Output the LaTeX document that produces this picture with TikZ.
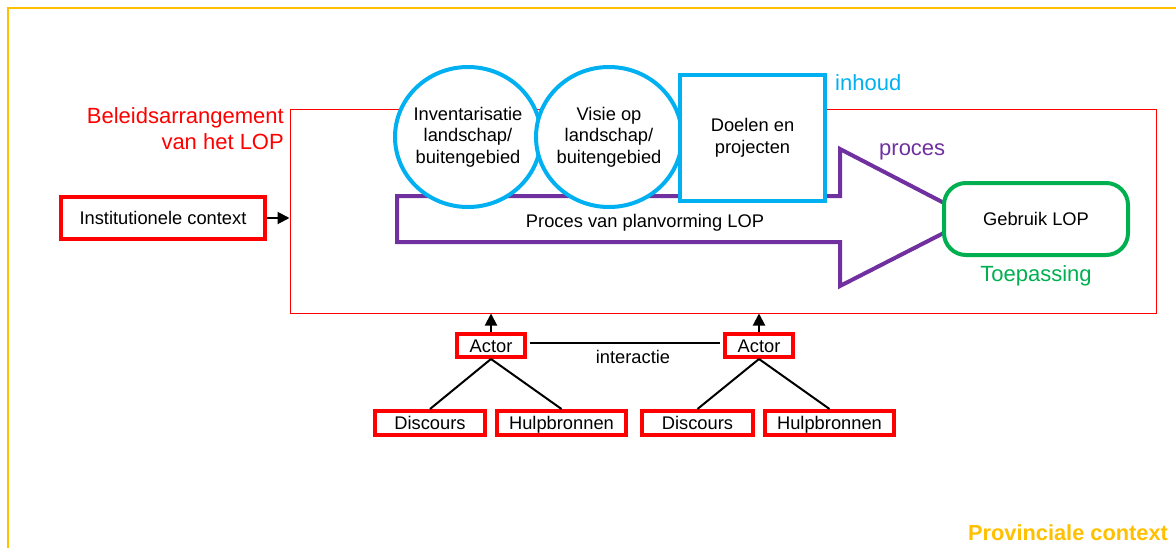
\documentclass[tikz,border=0pt]{standalone}
\usepackage{fontspec}
\setmainfont{Liberation Sans}
\usetikzlibrary{arrows.meta,shapes.geometric}
\definecolor{cred}{HTML}{FF0000}
\definecolor{cblue}{HTML}{00B0F0}
\definecolor{cpurple}{HTML}{7030A0}
\definecolor{cgreen}{HTML}{00B050}
\definecolor{cyellow}{HTML}{FFC000}
\newcommand{\fsnorm}{\fontsize{18.3}{21.6}\selectfont}
\newcommand{\fslarge}{\fontsize{22}{26}\selectfont}
\newcommand{\fsprov}{\fontsize{21.8}{25}\selectfont}
\tikzset{
  redbox/.style={draw=cred, line width=4pt, fill=white, inner sep=0pt,
    font=\fsnorm, text height=13.1pt, text depth=0pt},
  bluecirc/.style={draw=cblue, line width=4pt, fill=white, ellipse,
    inner sep=0pt, minimum width=146pt, minimum height=140pt},
  bluebox/.style={draw=cblue, line width=4pt, fill=white, inner sep=0pt,
    minimum width=145pt, minimum height=126pt, font=\fsnorm, align=center},
  greenbox/.style={draw=cgreen, line width=4pt, fill=white, inner sep=0pt,
    rounded corners=22pt, minimum width=184pt, minimum height=72pt,
    font=\fsnorm, text height=13.1pt, text depth=0pt},
  conn/.style={draw=black, line width=2pt},
  arr/.style={conn, -{Triangle[length=12pt,width=12pt]}},
  plain/.style={inner sep=0pt, font=\fsnorm},
  lbl/.style={inner sep=0pt, font=\fslarge},
}
\begin{document}
\begin{tikzpicture}[x=1pt,y=-1pt]
\path[use as bounding box] (0,0) rectangle (1176,547);
\begin{scope}
\clip (0,0) rectangle (1176,547);
\draw[cyellow, line width=2.5pt] (8,8) rectangle (1220,600);
\end{scope}
% Beleidsarrangement frame
\node[draw=cred, line width=1pt, inner sep=0pt, minimum width=866pt, minimum height=204pt] (beleid) at (723,211) {};
\node[lbl, text=cred, anchor=east, align=right] (beltitle) at (284,129) {Beleidsarrangement\\van het LOP};
% purple process arrow
\draw[cpurple, line width=4pt, line join=miter] (397,196) -- (840,196) -- (840,149) -- (973,218) -- (840,286) -- (840,242) -- (397,242) -- cycle;
\node[plain, anchor=base] (proctext) at (645,227) {Proces van planvorming LOP};
\node[lbl, text=cpurple, anchor=base west] (proces) at (879,155) {proces};
% content
\node[bluecirc] (inv) at (468,137) {};
\node[plain, align=center] (invtext) at (468,137) {Inventarisatie\\landschap/\\buitengebied};
\node[bluecirc] (vis) at (609,137) {};
\node[plain, align=center] (vistext) at (609,137) {Visie op\\landschap/\\buitengebied};
\node[bluebox] (doel) at (752.5,138) {Doelen en\\projecten};
\node[lbl, text=cblue, anchor=base west] (inhoud) at (835,90) {inhoud};
% use
\node[greenbox] (gebruik) at (1036,219) {Gebruik LOP};
\node[lbl, text=cgreen, anchor=base] (toep) at (1036,281) {Toepassing};
% institutional context
\node[redbox, minimum width=204pt, minimum height=42pt] (inst) at (163,218) {Institutionele context};
\draw[arr] (inst.east) -- (inst.east -| beleid.west);
% actors
\node[redbox, minimum width=68pt, minimum height=23pt] (actL) at (491,345.5) {Actor};
\node[redbox, minimum width=68pt, minimum height=23pt] (actR) at (759,345.5) {Actor};
\draw[arr] (actL.north) -- (actL.north |- beleid.south);
\draw[arr] (actR.north) -- (actR.north |- beleid.south);
\draw[conn, shorten <=3pt, shorten >=3pt] ([yshift=2.5pt]actL.east) -- ([yshift=2.5pt]actR.west);
\node[plain, anchor=base] (inter) at (633,363) {interactie};
\node[redbox, minimum width=110pt, minimum height=24pt] (discL) at (430,423) {Discours};
\node[redbox, minimum width=129pt, minimum height=24pt] (hulpL) at (561.5,423) {Hulpbronnen};
\node[redbox, minimum width=111pt, minimum height=24pt] (discR) at (697.5,423) {Discours};
\node[redbox, minimum width=129pt, minimum height=24pt] (hulpR) at (829.5,423) {Hulpbronnen};
\draw[conn] (actL.south) -- (discL.north);
\draw[conn] (actL.south) -- (hulpL.north);
\draw[conn] (actR.south) -- (discR.north);
\draw[conn] (actR.south) -- (hulpR.north);
% provincial context
\node[inner sep=0pt, font=\fsprov\bfseries, text=cyellow, anchor=base] (prov) at (1068,540) {Provinciale context};
\end{tikzpicture}
\end{document}
